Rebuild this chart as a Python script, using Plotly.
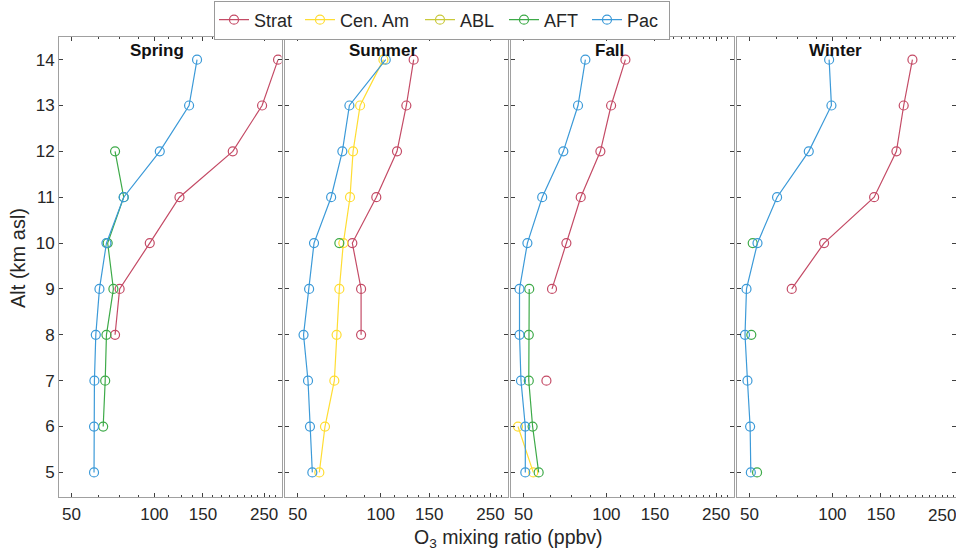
import plotly.graph_objects as go
import math

W, H = 956, 551

altitudes = [5, 6, 7, 8, 9, 10, 11, 12, 13, 14]
seasons = ["Spring", "Summer", "Fall", "Winter"]
series_names = ["Strat", "Cen. Am", "ABL", "AFT", "Pac"]
series_colors = ["#C44B66", "#FFDD33", "#C9C93A", "#3DAA48", "#3C9AD8"]
legend_widths = [41, 75, 39, 38, 37]

N = None
# O3 mixing ratio (ppbv) per altitude 5..14 km
spring_strat = [N, N, N, 72.0, 74.8, 96.2, 123.3, 192.4, 245.8, 280.9]
spring_cenam = [N, N, N, N, N, N, N, N, N, N]
spring_abl = [N, N, N, N, N, N, N, N, N, N]
spring_aft = [N, 65.2, 66.3, 67.0, 71.0, 67.7, 77.4, 72.0, N, N]
spring_pac = [60.4, 60.4, 60.6, 61.3, 63.2, 67.0, 77.4, 104.6, 133.6, 142.8]

summer_strat = [N, N, N, 84.9, 84.9, 78.9, 96.4, 114.6, 123.9, 131.7]
summer_cenam = [59.9, 62.8, 67.9, 69.2, 70.8, 73.2, 77.4, 79.4, 84.2, 102.3]
summer_abl = [N, N, N, N, N, N, N, N, N, N]
summer_aft = [N, N, N, N, N, 70.8, N, N, N, N]
summer_pac = [56.5, 55.4, 54.5, 52.5, 55.0, 57.3, 66.1, 72.6, 77.0, 104.3]

fall_strat = [N, N, 60.6, N, 63.5, 71.6, 80.7, 95.1, 104.0, 117.2]
fall_cenam = [54.3, 47.8, N, N, N, N, N, N, N, N]
fall_abl = [N, N, N, N, N, N, N, N, N, N]
fall_aft = [56.8, 54.0, 52.3, 52.3, 52.5, N, N, N, N, N]
fall_pac = [50.8, 50.8, 49.0, 48.4, 48.4, 51.7, 58.5, 69.8, 78.9, 83.9]

winter_strat = [N, N, N, N, 71.2, 93.3, 141.7, 170.7, 181.4, 195.1]
winter_cenam = [N, N, N, N, N, N, N, N, N, N]
winter_abl = [N, N, N, N, N, N, N, N, N, N]
winter_aft = [53.3, N, N, 50.8, N, 51.4, N, N, N, N]
winter_pac = [50.6, 50.3, 49.2, 48.2, 48.8, 53.5, 63.0, 82.1, 99.2, 97.3]

season_data = [
    [spring_strat, spring_cenam, spring_abl, spring_aft, spring_pac],
    [summer_strat, summer_cenam, summer_abl, summer_aft, summer_pac],
    [fall_strat, fall_cenam, fall_abl, fall_aft, fall_pac],
    [winter_strat, winter_cenam, winter_abl, winter_aft, winter_pac],
]

x_tickvals = [50, 100, 150, 250]
x_ticktext = ["50", "100", "150", "250"]
x_minor = [50 + 12.5 * i for i in range(20)]
y_tickvals = altitudes

FONT = "Liberation Sans, Arial, Helvetica, sans-serif"
TXT = "#262626"

# layout geometry (pixels)
panel_left = [59, 285.3, 511, 737]
panel_w = 222.5
top_px, bot_px = 36.7, 496.7
px_per_decade = 275.7
lo = math.log10(50) - 12.4 / px_per_decade

fig = go.Figure()

for si, season in enumerate(seasons):
    xa = "x" if si == 0 else f"x{si+1}"
    ya = "y" if si == 0 else f"y{si+1}"
    for k, name in enumerate(series_names):
        fig.add_trace(go.Scatter(
            x=season_data[si][k], y=altitudes,
            mode="lines+markers",
            name=name, legendgroup=name, showlegend=(si == 0),
            legendwidth=legend_widths[k],
            line=dict(color=series_colors[k], width=1.2),
            marker=dict(symbol="circle-open", size=9, color=series_colors[k],
                        line=dict(width=1.2, color=series_colors[k])),
            connectgaps=False,
            xaxis=xa, yaxis=ya,
        ))

layout = dict(
    width=W, height=H,
    margin=dict(l=0, r=0, t=0, b=0),
    paper_bgcolor="white", plot_bgcolor="white",
    font=dict(family=FONT, size=17, color=TXT),
    showlegend=True,
    legend=dict(orientation="h", x=214 / W, y=1 - 20 / H, xanchor="left", yanchor="middle",
                bordercolor="#9a9a9a", borderwidth=1, bgcolor="white",
                font=dict(family=FONT, size=18, color=TXT),
                tracegroupgap=0, itemwidth=30),
)

annotations = []
last = len(seasons) - 1
for si, season in enumerate(seasons):
    L = panel_left[si]
    R = min(L + panel_w, W)
    hi = lo + (R - L) / px_per_decade
    xkey = "xaxis" if si == 0 else f"xaxis{si+1}"
    ykey = "yaxis" if si == 0 else f"yaxis{si+1}"
    xa_anchor = "y" if si == 0 else f"y{si+1}"
    ya_anchor = "x" if si == 0 else f"x{si+1}"
    # the last panel is cut by the window edge: its last label is placed as text
    tv = x_tickvals[:-1] if si == last else x_tickvals
    tt = x_ticktext[:-1] if si == last else x_ticktext
    layout[xkey] = dict(
        type="log", domain=[L / W, R / W], range=[lo, hi], anchor=xa_anchor,
        tickvals=tv, ticktext=tt,
        ticks="inside", ticklen=4, tickcolor="#404040", tickwidth=1,
        minor=dict(tickvals=x_minor, ticks="inside", ticklen=2, tickcolor="#404040"),
        showline=True, linecolor="#a0a0a0", linewidth=1, mirror="ticks",
        showgrid=False, zeroline=False,
        tickfont=dict(family=FONT, size=17, color=TXT),
        ticklabelstandoff=2,
    )
    layout[ykey] = dict(
        domain=[1 - bot_px / H, 1 - top_px / H], range=[4.47, 14.5], anchor=ya_anchor,
        tickvals=y_tickvals, ticks="inside", ticklen=4, tickcolor="#404040",
        showline=True, linecolor="#a0a0a0", linewidth=1, mirror="ticks",
        showgrid=False, zeroline=False, showticklabels=(si == 0),
        tickfont=dict(family=FONT, size=17, color=TXT),
    )
    annotations.append(dict(
        text=f"<b>{season}</b>", x=(L + 98) / W, y=1 - 50 / H, xref="paper", yref="paper",
        xanchor="center", yanchor="middle", showarrow=False,
        font=dict(family=FONT, size=17, color="#111111"),
    ))

annotations.append(dict(
    text=x_ticktext[-1], x=math.log10(x_tickvals[-1]), xref=f"x{last+1}",
    y=1 - 515.5 / H, yref="paper", xanchor="center", yanchor="middle", showarrow=False,
    font=dict(family=FONT, size=17, color=TXT),
))
annotations.append(dict(
    text="Alt (km asl)", x=18 / W, y=1 - 258 / H, xref="paper", yref="paper",
    xanchor="center", yanchor="middle", textangle=-90, showarrow=False,
    font=dict(family=FONT, size=20, color=TXT),
))
annotations.append(dict(
    text="O<sub>3</sub> mixing ratio (ppbv)", x=508 / W, y=1 - 538 / H,
    xref="paper", yref="paper", xanchor="center", yanchor="middle", showarrow=False,
    font=dict(family=FONT, size=19.5, color=TXT),
))
layout["annotations"] = annotations

fig.update_layout(**layout)
fig.write_html("out.html")
